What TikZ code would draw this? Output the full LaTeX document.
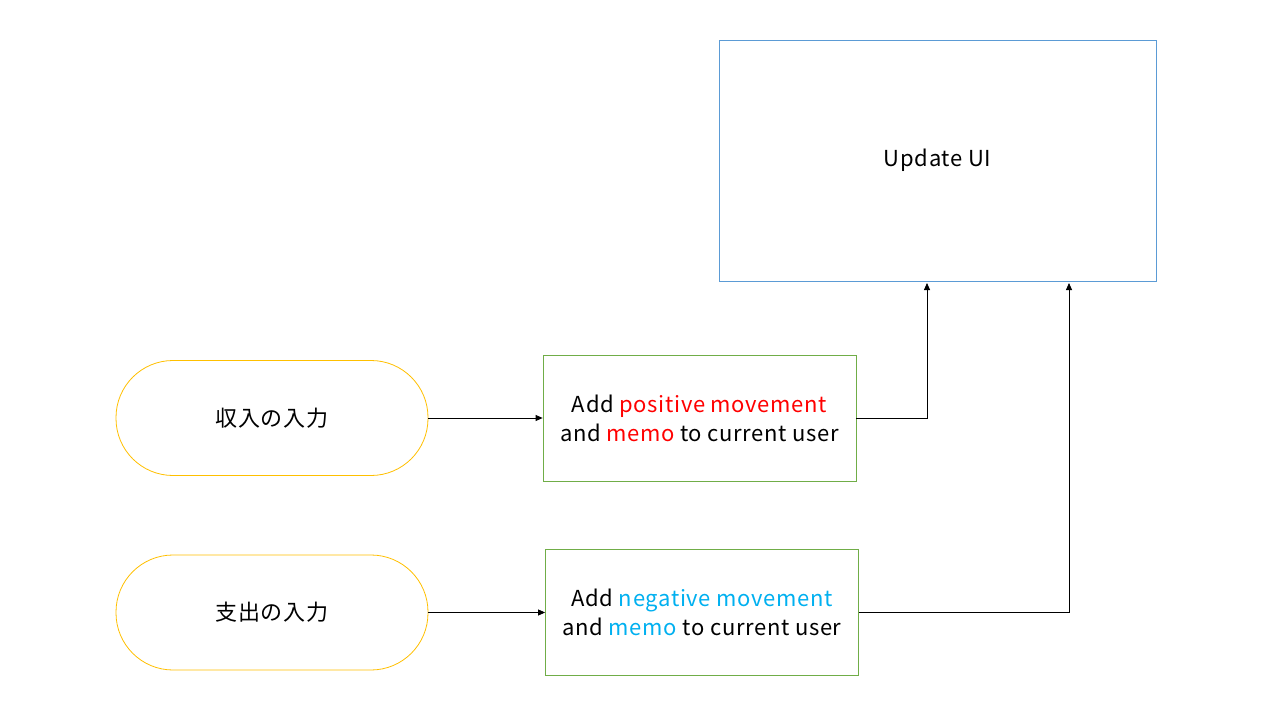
\documentclass[tikz,border=0pt]{standalone}
\usepackage{fontspec}
\setmainfont[LetterSpace=3]{Noto Sans CJK JP}
\usetikzlibrary{arrows.meta}
\definecolor{cyel}{HTML}{FFC000}
\definecolor{cgrn}{HTML}{70AD47}
\definecolor{cblu}{HTML}{5B9BD5}
\definecolor{cred}{HTML}{FF0000}
\definecolor{ccya}{HTML}{00B0F0}
\begin{document}
\begin{tikzpicture}[x=1pt,y=-1pt,
  every node/.style={font=\fontsize{22}{29}\selectfont, align=center, inner sep=0pt},
  term/.style={draw=cyel, line width=0.8pt, minimum width=312pt, minimum height=115pt, rounded corners=57pt},
  proc/.style={draw=cgrn, line width=0.8pt, minimum width=313pt, minimum height=126pt},
  ui/.style={draw=cblu, line width=0.8pt, minimum width=437pt, minimum height=241pt},
  conn/.style={draw=black, line width=0.8pt, -{Triangle[length=7pt,width=6pt]}}]
\useasboundingbox (0,0) rectangle (1280,720);
\fill[white] (0,0) rectangle (1280,720);
\node[term] (in1) at (272,418) {収入の入力};
\node[term] (in2) at (272,612.5) {支出の入力};
\node[proc] (p1) at (699.5,418) {Add \textcolor{cred}{positive movement}\\and \textcolor{cred}{memo} to current user};
\node[proc] (p2) at (702,612.5) {Add \textcolor{ccya}{negative movement}\\and \textcolor{ccya}{memo} to current user};
\node[ui] (u) at (937.5,160.5) {Update UI};
\coordinate (a1) at (927,283);
\coordinate (a2) at (1069,283);
\draw[conn] (in1.east) -- (p1.west);
\draw[conn] (in2.east) -- (p2.west);
\draw[conn] (p1.east) -| (a1);
\draw[conn] (p2.east) -| (a2);
\end{tikzpicture}
\end{document}
